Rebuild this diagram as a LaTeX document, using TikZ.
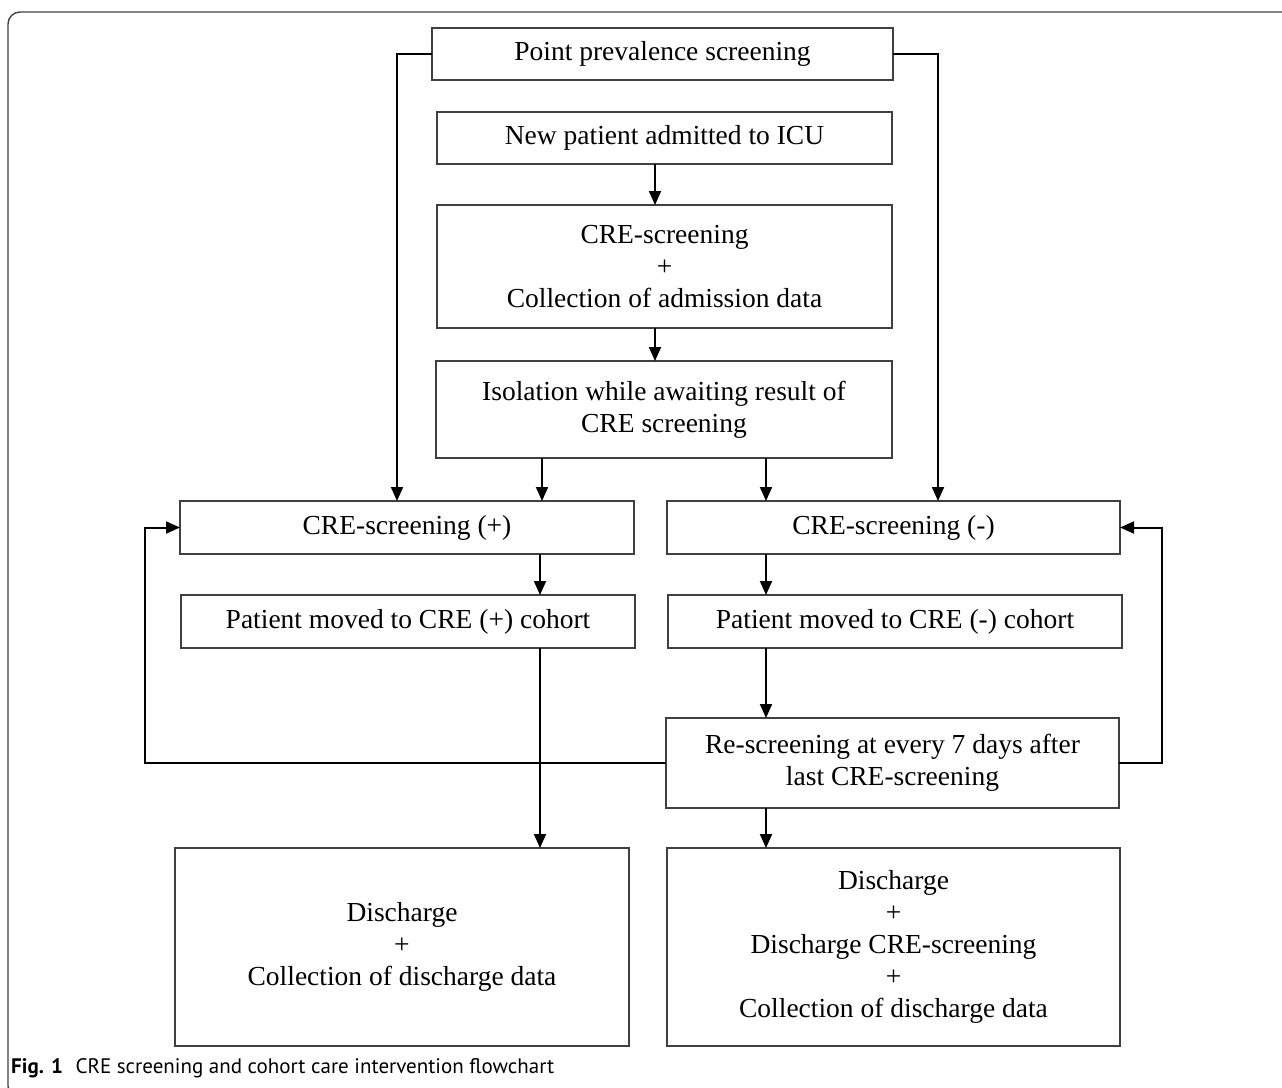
\documentclass[tikz,border=0pt]{standalone}
\usepackage{fontspec}
\setmainfont{Liberation Serif}
\newfontfamily\capfont{PT Sans}
\usetikzlibrary{arrows.meta}

\tikzset{
  box/.style={shape=rectangle, draw=black!75, line width=1.1pt, inner sep=2pt, outer sep=0pt,
    align=center, font=\fontsize{27.5}{32}\selectfont},
  arr/.style={line width=2pt, -{Triangle[length=14pt,width=12pt]}},
  lin/.style={line width=2pt}
}

\begin{document}
\begin{tikzpicture}[x=1pt,y=-1pt]
\useasboundingbox (0,0) rectangle (1282,1087);
%[frame]
\draw[black!75, line width=1.4pt, rounded corners=12pt] (1300,12) -- (8,12) -- (8,1098) -- (40,1098);

\path (662.5,54) node (pps) [box, minimum width=461pt, minimum height=52pt] {Point prevalence screening};
\path (664.5,138) node (npa) [box, minimum width=455pt, minimum height=52pt] {New patient admitted to ICU};
\path (664.5,266.5) node (scr) [box, minimum width=455pt, minimum height=123pt] {CRE-screening\\+\\Collection of admission data};
\path (664,409.5) node (iso) [box, minimum width=456pt, minimum height=97pt] {Isolation while awaiting result of\\CRE screening};

\path (407,527.5) node (crep) [box, minimum width=454pt, minimum height=53pt] {CRE-screening (+)};
\path (893.5,527.5) node (cren) [box, minimum width=453pt, minimum height=53pt] {CRE-screening (-)};
\path (408,621.5) node (pmp) [box, minimum width=454pt, minimum height=53pt] {Patient moved to CRE (+) cohort};
\path (895,621.5) node (pmn) [box, minimum width=454pt, minimum height=53pt] {Patient moved to CRE (-) cohort};
\path (892.5,763) node (res) [box, minimum width=453pt, minimum height=90pt] {Re-screening at every 7 days after\\last CRE-screening};

\path (402,947) node (disp) [box, minimum width=454pt, minimum height=198pt] {Discharge\\+\\Collection of discharge data};
\path (893.5,947) node (disn) [box, minimum width=453pt, minimum height=198pt] {Discharge\\+\\Discharge CRE-screening\\+\\Collection of discharge data};

%[arrows]
\draw[arr] (pps.west) -| (crep.north -| 397,0);
\draw[arr] (pps.east) -| (cren.north -| 938,0);
\draw[arr] (npa.south -| 655,0) -- (scr.north -| 655,0);
\draw[arr] (scr.south -| 655,0) -- (iso.north -| 655,0);
\draw[arr] (iso.south -| 542,0) -- (crep.north -| 542,0);
\draw[arr] (iso.south -| 766,0) -- (cren.north -| 766,0);
\draw[arr] (crep.south -| 540,0) -- (pmp.north -| 540,0);
\draw[arr] (cren.south -| 766,0) -- (pmn.north -| 766,0);
\draw[arr] (pmp.south -| 540,0) -- (disp.north -| 540,0);
\draw[arr] (pmn.south -| 766,0) -- (res.north -| 766,0);
\draw[arr] (res.south -| 766,0) -- (disn.north -| 766,0);
\draw[arr] (res.west) -| (145,527.5) -- (crep.west);
\draw[arr] (res.east) -| (1162,527.5) -- (cren.east);

%[caption]
\path (11,1068) node (cap) [anchor=west, inner sep=0pt, font=\capfont\fontsize{21}{25}\selectfont]
  {\textbf{Fig. 1}\hspace{0.6em}CRE screening and cohort care intervention flowchart};

\end{tikzpicture}
\end{document}
